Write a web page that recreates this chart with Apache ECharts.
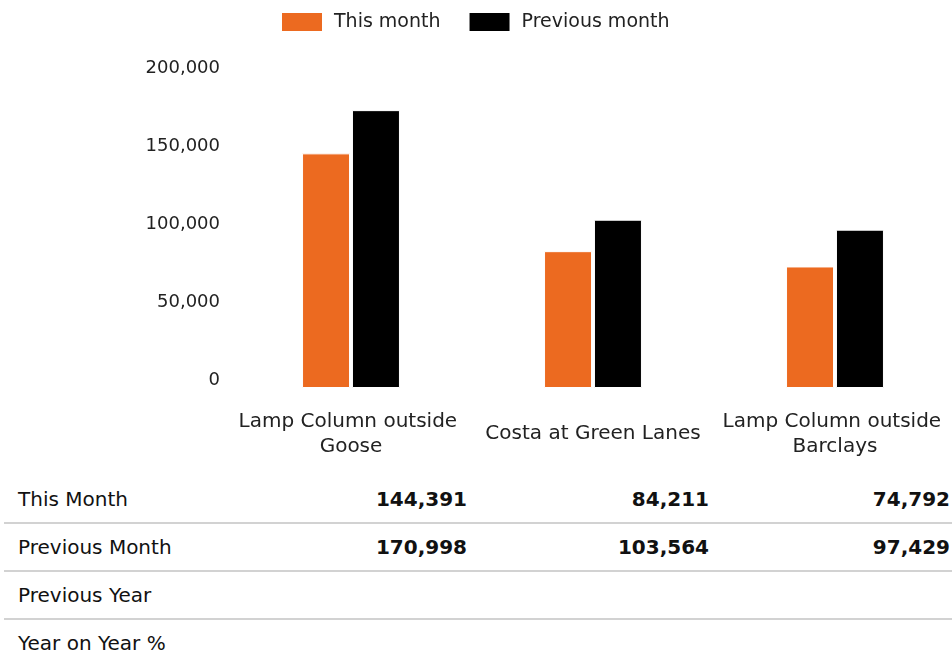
<!DOCTYPE html>
<html>
<head>
<meta charset="utf-8">
<script src="https://cdn.jsdelivr.net/npm/echarts@6/dist/echarts.min.js"></script>
<style>
  html, body { margin: 0; padding: 0; background: #fff; overflow: hidden; }
  /* chart is a bit wider than the window: the last column runs past the right edge */
  #chart { position: absolute; left: 0; top: 0; width: 980px; height: 470px; }
  #table { position: absolute; left: 0; top: 475px; width: 952px; font-family: 'DejaVu Sans', sans-serif; font-size: 20px; color: #111; }
  .row { position: absolute; left: 0; width: 952px; height: 48px; line-height: 48px; }
  .row .lbl { position: absolute; left: 18px; }
  .row .val { position: absolute; text-align: right; width: 240px; font-weight: bold; }
  .sep { position: absolute; left: 4px; width: 948px; height: 2px; background: #d2d2d2; }
</style>
</head>
<body>
<div id="chart"></div>
<div id="table"></div>
<script>
// data
var categories = ['Lamp Column outside Goose', 'Costa at Green Lanes', 'Lamp Column outside Barclays'];
var thisMonth = [144391, 84211, 74792];
var previousMonth = [170998, 103564, 97429];
var previousYear = [null, null, null];
var yearOnYear = [null, null, null];
var rowLabels = ['This Month', 'Previous Month', 'Previous Year', 'Year on Year %'];

var fontFamily = 'DejaVu Sans';

var myChart = echarts.init(document.getElementById('chart'));

var option = {
  animation: false,
  legend: {
    top: 6,
    left: 275,
    icon: 'rect',
    itemWidth: 42,
    itemHeight: 20,
    itemGap: 27,
    textStyle: { fontFamily: fontFamily, fontSize: 19, color: '#222', padding: [0, 0, 0, 6] },
    data: ['This month', 'Previous month']
  },
  grid: [
    { left: 230, top: 63, width: 726, height: 325 },
    // second grid only carries the y axis labels
    { left: 230, top: 68, width: 726, height: 312 }
  ],
  xAxis: [{
    type: 'category',
    gridIndex: 0,
    data: categories,
    axisLine: { show: false },
    axisTick: { show: false },
    axisLabel: {
      interval: 0,
      margin: 46,
      verticalAlign: 'middle',
      width: 232,
      overflow: 'break',
      lineHeight: 25,
      fontFamily: fontFamily,
      fontSize: 20,
      color: '#222'
    }
  }, {
    type: 'category',
    gridIndex: 1,
    data: categories,
    show: false
  }],
  yAxis: [{
    type: 'value',
    gridIndex: 0,
    min: 0,
    max: 200000,
    show: false
  }, {
    type: 'value',
    gridIndex: 1,
    min: 0,
    max: 200000,
    interval: 50000,
    axisLine: { show: false },
    axisTick: { show: false },
    splitLine: { show: false },
    axisLabel: {
      margin: 10,
      fontFamily: fontFamily,
      fontSize: 18,
      color: '#222',
      formatter: function (v) { return v.toLocaleString('en-US'); }
    }
  }],
  series: [{
    name: 'This month',
    type: 'bar',
    xAxisIndex: 0,
    yAxisIndex: 0,
    data: thisMonth,
    barWidth: 48,
    barGap: '4%',
    itemStyle: { color: '#ec6a20', borderColor: '#fff', borderWidth: 1 }
  }, {
    name: 'Previous month',
    type: 'bar',
    xAxisIndex: 0,
    yAxisIndex: 0,
    data: previousMonth,
    barWidth: 48,
    barGap: '4%',
    itemStyle: { color: '#000', borderColor: '#fff', borderWidth: 1 }
  }]
};

myChart.setOption(option);

// table under the chart
var rows = [thisMonth, previousMonth, previousYear, yearOnYear];
var colRight = [467, 709, 950];
var html = '';
for (var i = 0; i < rows.length; i++) {
  var rowTop = i * 48;
  html += '<div class="row" style="top:' + rowTop + 'px"><span class="lbl">' + rowLabels[i] + '</span>';
  for (var j = 0; j < rows[i].length; j++) {
    var v = rows[i][j];
    var txt = (v === null) ? '' : v.toLocaleString('en-US');
    html += '<span class="val" style="left:' + (colRight[j] - 240) + 'px">' + txt + '</span>';
  }
  html += '</div>';
  if (i < rows.length - 1) {
    html += '<div class="sep" style="top:' + (rowTop + 47) + 'px"></div>';
  }
}
document.getElementById('table').innerHTML = html;
</script>
</body>
</html>
